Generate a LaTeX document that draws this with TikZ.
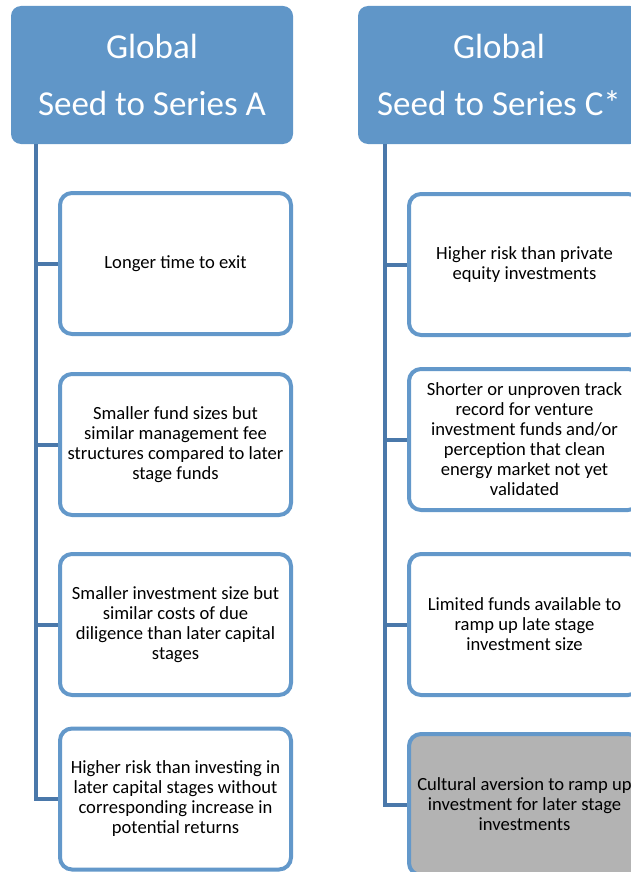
\documentclass[tikz,border=0pt]{standalone}
\usepackage{fontspec}
\setmainfont{Carlito}
\usepackage{xcolor}
\usepackage{tikz}
\usetikzlibrary{positioning}
\definecolor{headblue}{HTML}{6096C8}
\definecolor{edgeblue}{HTML}{6398CA}
\definecolor{trunkblue}{HTML}{4A78AA}
\definecolor{boxgray}{HTML}{B3B3B3}

\begin{document}
\begin{tikzpicture}[
    x=1pt,y=-1pt,
    head/.style={fill=headblue,draw=none,rounded corners=10pt,text=white,align=center,minimum width=282pt,minimum height=138pt,font=\fontsize{35}{57}\selectfont},
    item/.style={draw=edgeblue,line width=4pt,fill=white,rounded corners=12pt,align=center,minimum width=231pt,minimum height=141pt,font=\fontsize{18.6}{20}\selectfont},
    branch/.style={draw=trunkblue,line width=4pt}
  ]
    \useasboundingbox (0,0) rectangle (631,872);
    \clip (0,0) rectangle (631,872);

    % left column
    \node[head] (hA) at (152,75) {Global\\Seed to Series A};
    \node[item] (a1) at (175.5,263.5) {Longer time to exit};
    \node[item] (a2) at (175.5,444.5) {Smaller fund sizes but\\similar management fee\\structures compared to later\\stage funds};
    \node[item] (a3) at (175.5,624.5) {Smaller investment size but\\similar costs of due\\diligence than later capital\\stages};
    \node[item] (a4) at (175.5,799) {Higher risk than investing in\\later capital stages without\\corresponding increase in\\potential returns};

    % right column
    \node[head] (hB) at (499,75) {Global\\Seed to Series C*};
    \node[item] (b1) at (524.5,264.5) {Higher risk than private\\equity investments};
    \node[item] (b2) at (524.5,439.5) {Shorter or unproven track\\record for venture\\investment funds and/or\\perception that clean\\energy market not yet\\validated};
    \node[item] (b3) at (524.5,624.5) {Limited funds available to\\ramp up late stage\\investment size};
    \node[item,fill=boxgray] (b4) at (524.5,804.5) {Cultural aversion to ramp up\\investment for later stage\\investments};

    \coordinate (tA) at (36,144);
    \coordinate (tB) at (385,144);
    \draw[branch] (tA) |- (a4.west);
    \draw[branch] (tA |- a1.west) -- (a1.west);
    \draw[branch] (tA |- a2.west) -- (a2.west);
    \draw[branch] (tA |- a3.west) -- (a3.west);
    \draw[branch] (tB) |- (b4.west);
    \draw[branch] (tB |- b1.west) -- (b1.west);
    \draw[branch] (tB |- b2.west) -- (b2.west);
    \draw[branch] (tB |- b3.west) -- (b3.west);
  \end{tikzpicture}
\end{document}
